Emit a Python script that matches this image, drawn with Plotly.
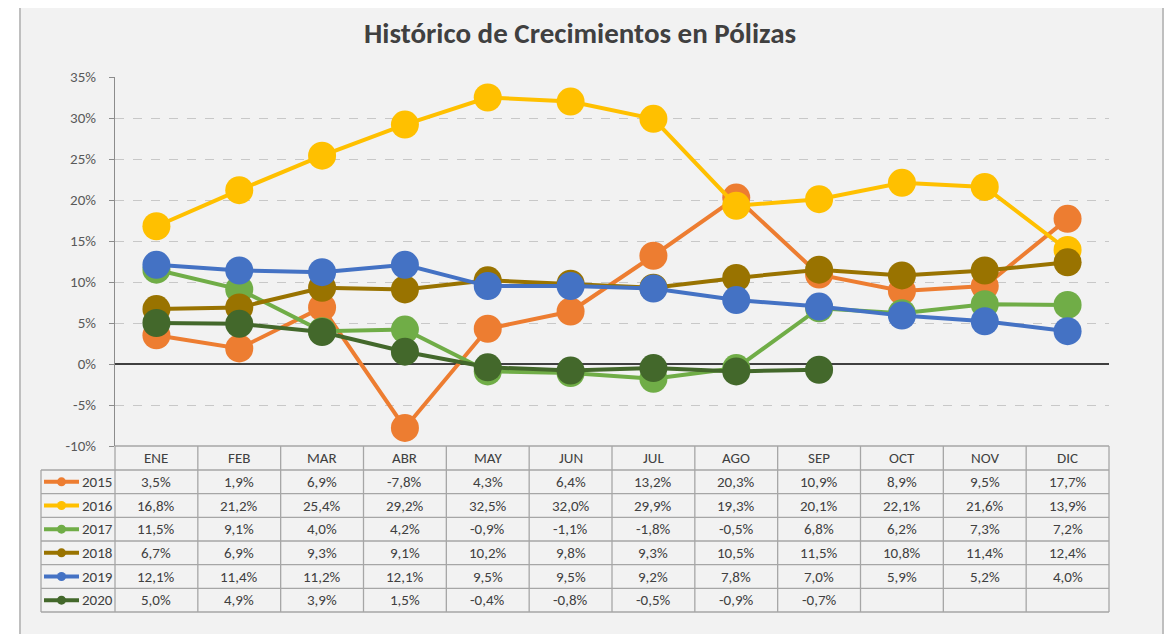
import plotly.graph_objects as go

months = ["ENE", "FEB", "MAR", "ABR", "MAY", "JUN", "JUL", "AGO", "SEP", "OCT", "NOV", "DIC"]
years = ["2015", "2016", "2017", "2018", "2019", "2020"]
v2015 = [3.5, 1.9, 6.9, -7.8, 4.3, 6.4, 13.2, 20.3, 10.9, 8.9, 9.5, 17.7]
v2016 = [16.8, 21.2, 25.4, 29.2, 32.5, 32.0, 29.9, 19.3, 20.1, 22.1, 21.6, 13.9]
v2017 = [11.5, 9.1, 4.0, 4.2, -0.9, -1.1, -1.8, -0.5, 6.8, 6.2, 7.3, 7.2]
v2018 = [6.7, 6.9, 9.3, 9.1, 10.2, 9.8, 9.3, 10.5, 11.5, 10.8, 11.4, 12.4]
v2019 = [12.1, 11.4, 11.2, 12.1, 9.5, 9.5, 9.2, 7.8, 7.0, 5.9, 5.2, 4.0]
v2020 = [5.0, 4.9, 3.9, 1.5, -0.4, -0.8, -0.5, -0.9, -0.7, None, None, None]
series = [v2015, v2016, v2017, v2018, v2019, v2020]
colors = ["#ED7D31", "#FFC000", "#70AD47", "#997300", "#4472C4", "#43682B"]
ytickvals = [-10, -5, 0, 5, 10, 15, 20, 25, 30, 35]
yticktext = ["-10%", "-5%", "0%", "5%", "10%", "15%", "20%", "25%", "30%", "35%"]

FONT = "Calibri, Carlito, Lato, sans-serif"
O = 8  # page body margin
W, H = 1174 - 2 * O, 634 - O
# plot area in page pixels
L, R, T, B = 115, 1109, 77, 446
PW, PH = R - L, B - T


def px(x):
    return (x - L) / PW


def py(y):
    return (B - y) / PH


def fmt(v):
    return "" if v is None else f"{v:.1f}".replace(".", ",") + "%"


fig = go.Figure()
for name, vals, c in zip(years, series, colors):
    fig.add_trace(go.Scatter(
        x=months, y=vals, name=name, mode="lines+markers",
        line=dict(color=c, width=4),
        marker=dict(color=c, size=28),
        connectgaps=False, showlegend=False,
    ))

shapes = []
annotations = []
# chart background box
shapes.append(dict(type="rect", xref="paper", yref="paper",
                   x0=px(20), x1=px(1163), y0=py(680), y1=py(4),
                   fillcolor="#F2F2F2", line=dict(color="#BFBFBF", width=2), layer="below"))

# table geometry
ncol = len(months)
colw = PW / ncol
header_top, header_bot = 446, 470
rowh = (612 - header_bot) / len(years)
row_edges = [header_bot + i * rowh for i in range(len(years) + 1)]
left_x = 41
gc = "#A6A6A6"
gw = 1.3

shapes.append(dict(type="line", xref="paper", yref="paper", x0=px(L), x1=px(R),
                   y0=py(header_top), y1=py(header_top), line=dict(color=gc, width=gw)))
for ye in row_edges:
    shapes.append(dict(type="line", xref="paper", yref="paper", x0=px(left_x), x1=px(R),
                       y0=py(ye), y1=py(ye), line=dict(color=gc, width=gw)))
shapes.append(dict(type="line", xref="paper", yref="paper", x0=px(left_x), x1=px(left_x),
                   y0=py(header_bot), y1=py(row_edges[-1]), line=dict(color=gc, width=gw)))
for k in range(ncol + 1):
    xx = L + k * colw
    shapes.append(dict(type="line", xref="paper", yref="paper", x0=px(xx), x1=px(xx),
                       y0=py(header_top), y1=py(row_edges[-1]), line=dict(color=gc, width=gw)))

tc = "#404040"
TS = 15
for m in months:
    annotations.append(dict(x=m, y=py((header_top + header_bot) / 2), xref="x", yref="paper",
                            text=m, showarrow=False, font=dict(family=FONT, size=TS, color=tc),
                            xanchor="center", yanchor="middle"))
for i, (name, vals, c) in enumerate(zip(years, series, colors)):
    yc = (row_edges[i] + row_edges[i + 1]) / 2
    shapes.append(dict(type="line", xref="paper", yref="paper", x0=px(44), x1=px(79),
                       y0=py(yc), y1=py(yc), line=dict(color=c, width=4)))
    shapes.append(dict(type="circle", xref="paper", yref="paper",
                       xsizemode="pixel", ysizemode="pixel",
                       xanchor=px(61.5), yanchor=py(yc), x0=-4.5, x1=4.5, y0=-4.5, y1=4.5,
                       fillcolor=c, line=dict(color=c, width=0)))
    annotations.append(dict(x=px(80), y=py(yc), xref="paper", yref="paper", text=name,
                            showarrow=False, font=dict(family=FONT, size=TS, color=tc),
                            xanchor="left", yanchor="middle"))
    for m, v in zip(months, vals):
        if v is None:
            continue
        annotations.append(dict(x=m, y=py(yc), xref="x", yref="paper", text=fmt(v),
                                showarrow=False, font=dict(family=FONT, size=TS, color=tc),
                                xanchor="center", yanchor="middle"))

annotations.append(dict(x=px(580), y=py(33), xref="paper", yref="paper",
                        text="<b>Histórico de Crecimientos en Pólizas</b>", showarrow=False,
                        font=dict(family=FONT, size=29, color="#404040"),
                        xanchor="center", yanchor="middle"))

fig.update_layout(
    width=W, height=H,
    margin=dict(l=L - O, r=W - (R - O), t=T - O, b=H - (B - O), pad=0),
    paper_bgcolor="white", plot_bgcolor="rgba(0,0,0,0)",
    shapes=shapes, annotations=annotations,
    xaxis=dict(type="category", range=[-0.5, ncol - 0.5], showticklabels=False,
               showgrid=False, zeroline=False, showline=False, ticks=""),
    yaxis=dict(range=[-10, 35], tickvals=ytickvals, ticktext=yticktext,
               showgrid=True, gridcolor="#C8C8C8", griddash="dash", gridwidth=1,
               zeroline=True, zerolinecolor="#404040", zerolinewidth=2,
               showline=True, linecolor="#8C8C8C", linewidth=1,
               ticks="outside", ticklen=5, tickcolor="#8C8C8C",
               ticklabelstandoff=10,
               tickfont=dict(family=FONT, size=15, color="#595959")),
    hovermode=False,
)

fig.write_html("out.html")
